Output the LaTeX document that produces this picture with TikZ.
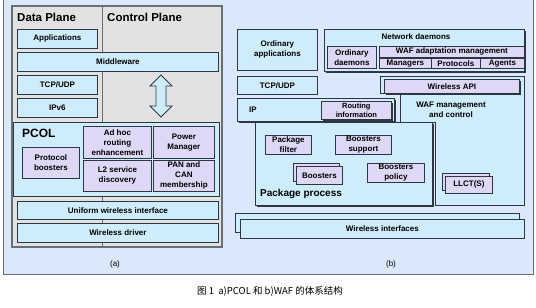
\documentclass[tikz,border=0pt]{standalone}
\usepackage{fontspec}
\setmainfont{Liberation Sans}
\newfontfamily\cjk{Noto Sans CJK SC}
\usetikzlibrary{shapes.arrows, shadows, positioning}
\definecolor{bgblue}{RGB}{219, 231, 251}
\definecolor{panelgray}{RGB}{226, 226, 226}
\definecolor{boxblue}{RGB}{206, 236, 252}
\definecolor{boxpurple}{RGB}{222, 216, 246}
\definecolor{edgegray}{RGB}{45, 55, 65}
\definecolor{framegray}{RGB}{105, 110, 115}
\tikzset{
  layer/.style={rectangle, draw=edgegray, fill=boxblue, line width=0.8pt,
              inner sep=0pt, align=center, anchor=north west,
              font=\bfseries\fontsize{8}{10}\selectfont},
  part/.style={layer, fill=boxpurple},
  stacked/.style={copy shadow={shadow xshift=-3pt, shadow yshift=3pt}},
  sunk/.style={drop shadow={shadow xshift=1.2pt, shadow yshift=-1.2pt,
              fill=edgegray, opacity=1}},
  title/.style={anchor=west, inner sep=0pt, font=\bfseries\fontsize{11.5}{13}\selectfont},
  sublabel/.style={inner sep=0pt, font=\fontsize{8}{10}\selectfont},
}

\begin{document}
\begin{tikzpicture}[x=1pt, y=-1pt]
  \useasboundingbox (0,0) rectangle (536,308);
  \draw[framegray, line width=1pt, fill=bgblue] (3,-3) rectangle (533,274);

  % (a) PCOL
  \draw[framegray, line width=1.3pt, fill=panelgray] (12,6) rectangle (222,247);
  \draw[framegray, line width=1pt] (102,6) -- (102,247);
  \node[title] (dplane) at (17,17) {Data Plane};
  \node[title] (cplane) at (107,17) {Control Plane};

  \node[layer, minimum width=80pt, minimum height=19pt] (apps) at (17,29) {Applications};
  \node[layer, minimum width=201pt, minimum height=19pt] (mware) at (17,52) {Middleware};
  \node[layer, minimum width=80pt, minimum height=19pt] (tcpa) at (17,75) {TCP/UDP};
  \node[layer, minimum width=80pt, minimum height=19pt] (ipv6) at (17,98) {IPv6};
  % up/down arrow between middleware and PCOL
  \draw[edgegray, line width=0.8pt, fill=boxblue]
    (161,75) -- (172,86) -- (166,86) -- (166,106) -- (172,106) -- (161,117)
    -- (150,106) -- (156,106) -- (156,86) -- (150,86) -- cycle;

  \node[layer, line width=1.2pt, minimum width=206pt, minimum height=74pt] (pcol) at (13,122) {};
  \node[title, font=\bfseries\fontsize{12}{14}\selectfont] (pcoltitle) at (22,133) {PCOL};
  \node[part, minimum width=57pt, minimum height=31pt] (boosta) at (22,147) {Protocol\\boosters};
  \node[part, minimum width=68pt, minimum height=32pt] (adhoc) at (83,126) {Ad hoc\\routing\\enhancement};
  \node[part, minimum width=61pt, minimum height=32pt] (power) at (153,126) {Power\\Manager};
  \node[part, minimum width=68pt, minimum height=31pt] (ltwo) at (83,160) {L2 service\\discovery};
  \node[part, minimum width=61pt, minimum height=31pt] (pan) at (153,160) {PAN and\\CAN\\membership};
  \node[layer, minimum width=201pt, minimum height=18pt] (uwi) at (17,201) {Uniform wireless interface};
  \node[layer, minimum width=201pt, minimum height=19pt] (wdrv) at (17,223) {Wireless driver};
  \node[sublabel] (cap-a) at (115,264) {(a)};

  % (b) WAF
  \node[layer, minimum width=80pt, minimum height=41pt] (oapps) at (237,29) {Ordinary\\applications};
  \node[layer, sunk, minimum width=200pt, minimum height=42pt] (netd) at (324,29) {};
  \node[font=\bfseries\fontsize{8}{10}\selectfont, inner sep=0pt] (netdtitle) at (416,37) {Network daemons};
  \node[part, minimum width=49pt, minimum height=22pt] (odmn) at (327,46) {Ordinary\\daemons};
  \node[part, minimum width=145pt, minimum height=11pt] (wafam) at (379,46) {WAF adaptation management};
  \node[part, minimum width=52pt, minimum height=10pt] (mgrs) at (379,58) {Managers};
  \node[part, minimum width=49pt, minimum height=10pt] (prots) at (431,58) {Protocols};
  \node[part, minimum width=44pt, minimum height=10pt] (agts) at (480,58) {Agents};
  \node[layer, minimum width=80pt, minimum height=18pt] (tcpb) at (237,76) {TCP/UDP};

  \draw[edgegray, line width=0.8pt, fill=boxblue]
    (380,76) -- (524,76) -- (524,205) -- (435,205) -- (435,122) -- (400,122)
    -- (400,93) -- (380,93) -- cycle;
  \node[part, sunk, minimum width=135pt, minimum height=14pt] (wapi) at (384,79) {Wireless API};
  \node[font=\bfseries\fontsize{8}{10}\selectfont, align=center, inner sep=0pt] (waftitle) at (451,110) {WAF management\\and control};

  \node[layer, sunk, minimum width=157pt, minimum height=23pt] (ip) at (237,98) {};
  \node[font=\bfseries\fontsize{8}{10}\selectfont, inner sep=0pt, anchor=west] (iptitle) at (249,110) {IP};
  \node[part, sunk, minimum width=70pt, minimum height=18pt, font=\bfseries\fontsize{7.5}{8.5}\selectfont] (rinfo) at (321,101) {Routing\\information};

  \node[layer, sunk, minimum width=177pt, minimum height=83pt] (pkg) at (255,122) {};
  \node[title, font=\bfseries\fontsize{10}{12}\selectfont] (pkgtitle) at (260,194) {Package process};
  \node[part, minimum width=46pt, minimum height=19pt] (pfilter) at (265,135) {Package\\filter};
  \node[part, minimum width=56pt, minimum height=19pt] (bsupport) at (335,135) {Boosters\\support};
  \node[part, stacked, minimum width=46pt, minimum height=18pt] (boostb) at (296,166) {Boosters};
  \node[part, minimum width=57pt, minimum height=19pt] (bpolicy) at (367,163) {Boosters\\policy};
  \node[part, stacked, minimum width=47pt, minimum height=17pt] (llct) at (445,176) {LLCT(S)};

  \node[layer, copy shadow={shadow xshift=-5pt, shadow yshift=6pt},
        minimum width=284pt, minimum height=19pt] (wif) at (240,219) {Wireless interfaces};
  \node[sublabel] (cap-b) at (391,264) {(b)};

  \node[font=\cjk\fontsize{9.5}{11}\selectfont, inner sep=0pt] (caption) at (270,291)
       {图 1\ \ a)PCOL 和 b)WAF 的体系结构};
\end{tikzpicture}
\end{document}
